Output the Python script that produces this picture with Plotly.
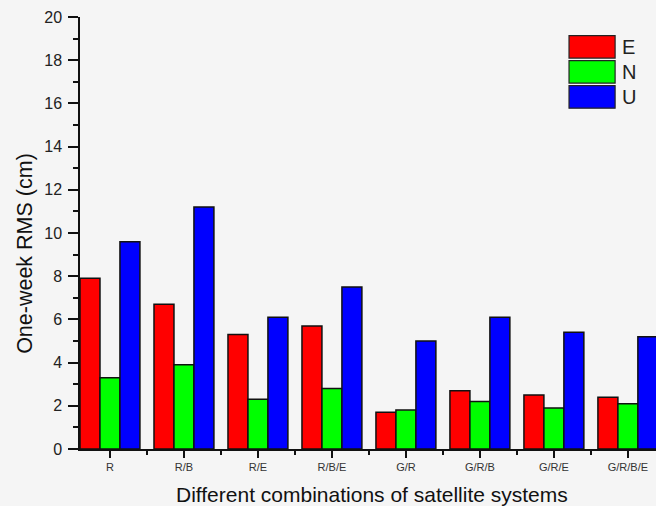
import plotly.graph_objects as go

categories = ["R", "R/B", "R/E", "R/B/E", "G/R", "G/R/B", "G/R/E", "G/R/B/E"]
e_rms = [7.9, 6.7, 5.3, 5.7, 1.7, 2.7, 2.5, 2.4]
n_rms = [3.3, 3.9, 2.3, 2.8, 1.8, 2.2, 1.9, 2.1]
u_rms = [9.6, 11.2, 6.1, 7.5, 5.0, 6.1, 5.4, 5.2]
series_names = ["E", "N", "U"]
series_colors = ["#ff0000", "#00ff00", "#0000ff"]

FONT = "Liberation Sans, Arial, sans-serif"
BG = "#f5f5f5"

fig = go.Figure()
for name, vals, col in zip(series_names, [e_rms, n_rms, u_rms], series_colors):
    fig.add_trace(go.Bar(
        x=list(range(len(categories))), y=vals, name=name,
        marker=dict(color=col, line=dict(color="#111111", width=1.5)),
        showlegend=False,
    ))

# legend drawn as wide colour boxes with labels
box_x0, box_x1 = 0.849, 0.929
box_top, box_h, box_pitch = 0.957, 0.052, 0.058
for i, (name, col) in enumerate(zip(series_names, series_colors)):
    y1 = box_top - i * box_pitch
    y0 = y1 - box_h
    fig.add_shape(type="rect", xref="paper", yref="paper",
                  x0=box_x0, x1=box_x1, y0=y0, y1=y1,
                  fillcolor=col, line=dict(color="#222222", width=1.2))
    fig.add_annotation(xref="paper", yref="paper", x=box_x1 + 0.008, y=(y0 + y1) / 2,
                       text=name, showarrow=False, xanchor="left", yanchor="middle",
                       font=dict(family=FONT, size=20, color="#222222"))

# axis titles
fig.add_annotation(xref="paper", yref="paper", x=-0.0955, y=0.454, textangle=-90,
                   text="One-week RMS (cm)", showarrow=False,
                   xanchor="center", yanchor="middle",
                   font=dict(family=FONT, size=21.5, color="#111111"))
fig.add_annotation(xref="paper", yref="paper", x=0.507, y=-0.105,
                   text="Different combinations of satellite systems", showarrow=False,
                   xanchor="center", yanchor="middle",
                   font=dict(family=FONT, size=21, color="#111111"))

fig.update_layout(
    width=656, height=506,
    margin=dict(l=80, r=0, t=17, b=57),
    paper_bgcolor=BG, plot_bgcolor=BG,
    barmode="group", bargap=0.19, bargroupgap=0.0,
    font=dict(family=FONT, color="#222222"),
)
fig.update_xaxes(
    range=[-0.405, 7.38],
    tickmode="array", tickvals=list(range(len(categories))), ticktext=categories,
    tickfont=dict(size=11, color="#333333"),
    ticks="outside", ticklen=7, tickwidth=1.5, tickcolor="#111111",
    minor=dict(tickmode="array", tickvals=[i + 0.5 for i in range(len(categories) - 1)],
               ticks="outside", ticklen=4, tickwidth=1.5, tickcolor="#111111"),
    showline=True, linecolor="#111111", linewidth=1.5,
    showgrid=False, zeroline=False,
)
fig.update_yaxes(
    range=[0, 20], tickmode="linear", tick0=0, dtick=2,
    tickfont=dict(size=16, color="#222222"),
    ticks="outside", ticklen=10, tickwidth=1.5, tickcolor="#111111",
    ticklabelstandoff=3,
    minor=dict(dtick=1, ticks="outside", ticklen=5, tickwidth=1.5, tickcolor="#111111"),
    showline=True, linecolor="#111111", linewidth=1.5,
    showgrid=False, zeroline=False,
)

fig.write_html("out.html")
